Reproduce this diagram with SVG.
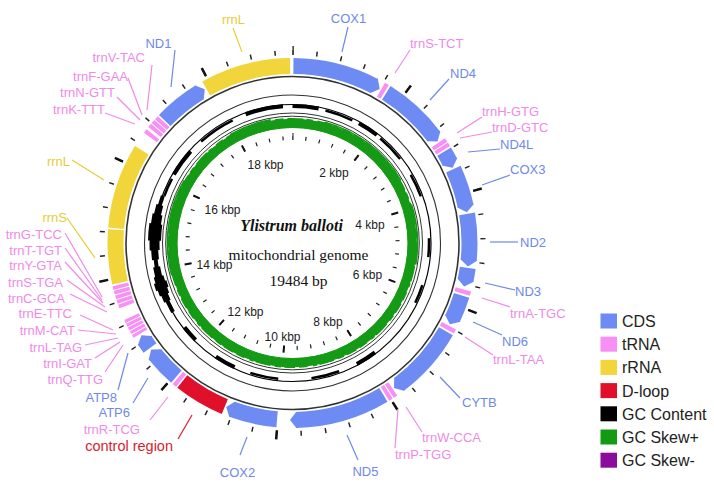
<svg xmlns="http://www.w3.org/2000/svg" width="714" height="486" viewBox="0 0 714 486">
<defs>
<polygon id="tipC" fill="#6d8bf3" points="-7.75,-184.84 -6.46,-184.89 0,-177 -5.9,-168.9 -7.08,-168.85"/>
</defs>
<style>
.g{fill:none;stroke-width:16}
.cds{stroke:#6d8bf3}.trna{stroke:#f78ff4}.rrna{stroke:#f2d43b}.dl{stroke:#e0102a}
.rg{fill:none;stroke:#333}
text{font-family:"Liberation Sans",Arial,sans-serif}
text.sf{font-family:"Liberation Serif","Times New Roman",serif;fill:#111;text-anchor:middle}
.lb{font-size:13px}
.kb{font-size:12px;fill:#222;text-anchor:middle}
.cb{fill:#6f88ea}.cp{fill:#f08ae8}.cy{fill:#e6cd38}.cr{fill:#d81c30}
.e{text-anchor:end}.m{text-anchor:middle}
#connectors line{stroke-width:1.2}
.sb{stroke:#6f88ea}.sp{stroke:#f08ae8}.sy{stroke:#e6cd38}.sr{stroke:#d81c30}
.lg{font-size:16px;fill:#222}
.gc{fill:none;stroke:#000}
.sk{fill:none;stroke:#159a15}
</style>
<rect width="714" height="486" fill="#fff"/>

<!-- inner tracks -->
<g id="tracks" transform="translate(292.5 243) rotate(-90)">
<circle class="rg" r="166.5" stroke="#111" stroke-width="1.6"/>
<circle class="rg" r="148" stroke-width="1.1"/>
<circle class="rg" r="130" stroke-width="1"/>
<circle class="rg" r="126.8" stroke-width="1"/>
<!-- GC content -->
<circle class="gc" r="138.5" stroke-width="1.2"/>
<circle class="gc" r="137" stroke-width="4" pathLength="360" stroke-dasharray="11 18 9 105 9 53 9 11 7 68 12 28 16 4"/>
<circle class="gc" r="136.5" stroke-width="2.5" pathLength="360" stroke-dasharray="0 14 12 14 12 8 10 18 8 12 8 44 12 14 12 92 8 20 16 26"/>
<circle class="gc" r="138" stroke-width="4" pathLength="360" stroke-dasharray="0 240 50 70"/>
<circle class="gc" r="138" stroke-width="7" pathLength="360" stroke-dasharray="0 245 15 3 23 74"/>
<circle class="gc" r="138" stroke-width="10" pathLength="360" stroke-dasharray="0 248 8 11 15 78"/>
<circle class="gc" r="138" stroke-width="13" pathLength="360" stroke-dasharray="0 250.5 3 17.5 7 82"/>
<!-- GC skew -->
<circle class="sk" r="119.8" stroke-width="9"/>
<circle class="sk" r="124.2" stroke-width="1.6" pathLength="360" stroke-dasharray="5 1.5 3 2 7 1 2 2.5 4 1.8"/>
<circle class="sk" r="125" stroke-width="1.8" pathLength="360" stroke-dasharray="0 15 45 12 28 155 45 30 20 10"/>
<circle class="sk" r="115.5" stroke="#1f7f1f" stroke-width="1"/>
<!-- rulers -->
<circle fill="none" stroke="#222" r="190.5" stroke-width="5" pathLength="19484" stroke-dasharray="24 376" stroke-dashoffset="12"/>
<circle fill="none" stroke="#111" r="192.5" stroke-width="9" pathLength="19484" stroke-dasharray="40 1960" stroke-dashoffset="20"/>
<circle fill="none" stroke="#222" r="105" stroke-width="4" pathLength="19484" stroke-dasharray="35 365" stroke-dashoffset="17.5"/>
<circle fill="none" stroke="#111" r="106.5" stroke-width="7" pathLength="19484" stroke-dasharray="58 1942" stroke-dashoffset="29"/>
</g>

<g id="ruler-labels">
<text class="kb" x="265.5" y="169">18 kbp</text>
<text class="kb" x="334" y="177">2 kbp</text>
<text class="kb" x="222.5" y="214">16 kbp</text>
<text class="kb" x="370" y="229">4 kbp</text>
<text class="kb" x="214.5" y="269">14 kbp</text>
<text class="kb" x="367.5" y="279">6 kbp</text>
<text class="kb" x="245.5" y="316">12 kbp</text>
<text class="kb" x="328" y="326">8 kbp</text>
<text class="kb" x="282.5" y="341">10 kbp</text>
</g>

<g id="title">
<text class="sf" x="291.5" y="231" font-weight="bold" font-style="italic" font-size="16">Ylistrum balloti</text>
<text class="sf" x="298.5" y="259.5" font-size="15.5">mitochondrial genome</text>
<text class="sf" x="298.5" y="286" font-size="15.5">19484 bp</text>
</g>

<!-- connectors -->
<g id="connectors">
<line class="sy" x1="233" y1="28" x2="242" y2="52"/>
<line class="sb" x1="348" y1="27" x2="342" y2="52"/>
<line class="sp" x1="410" y1="50" x2="395" y2="73"/>
<line class="sb" x1="449" y1="79" x2="430" y2="100"/>
<line class="sp" x1="482" y1="117" x2="457" y2="133"/>
<line class="sp" x1="492" y1="132" x2="460" y2="138"/>
<line class="sb" x1="500" y1="149" x2="468" y2="152"/>
<line class="sb" x1="510" y1="175" x2="482" y2="185"/>
<line class="sb" x1="518" y1="242" x2="490" y2="242"/>
<line class="sb" x1="515" y1="290" x2="485" y2="283"/>
<line class="sp" x1="510" y1="307" x2="482" y2="298"/>
<line class="sb" x1="502" y1="335" x2="473" y2="322"/>
<line class="sp" x1="493" y1="355" x2="465" y2="337"/>
<line class="sb" x1="460" y1="398" x2="440" y2="377"/>
<line class="sp" x1="422" y1="432" x2="406" y2="407"/>
<line class="sp" x1="395" y1="448" x2="398" y2="409"/>
<line class="sb" x1="358" y1="460" x2="347" y2="435"/>
<line class="sb" x1="240" y1="455" x2="247" y2="437"/>
<line class="sr" x1="178" y1="439" x2="192" y2="415"/>
<line class="sp" x1="150" y1="420" x2="168" y2="397"/>
<line class="sb" x1="133" y1="403" x2="148" y2="378"/>
<line class="sb" x1="118" y1="390" x2="128" y2="353"/>
<line class="sp" x1="105" y1="372" x2="123" y2="345"/>
<line class="sp" x1="95" y1="358" x2="120" y2="342"/>
<line class="sp" x1="85" y1="345" x2="118" y2="338"/>
<line class="sp" x1="78" y1="330" x2="116" y2="334"/>
<line class="sp" x1="80" y1="315" x2="113" y2="330"/>
<line class="sp" x1="70" y1="294" x2="107" y2="312"/>
<line class="sp" x1="67" y1="280" x2="105" y2="307"/>
<line class="sp" x1="65" y1="262" x2="103" y2="303"/>
<line class="sp" x1="65" y1="248" x2="102" y2="300"/>
<line class="sp" x1="65" y1="233" x2="102" y2="297"/>
<line class="sy" x1="67" y1="218" x2="95" y2="258"/>
<line class="sy" x1="72" y1="160" x2="104" y2="180"/>
<line class="sp" x1="105" y1="113" x2="135" y2="124"/>
<line class="sp" x1="117" y1="97" x2="140" y2="120"/>
<line class="sp" x1="128" y1="78" x2="142" y2="115"/>
<line class="sp" x1="152" y1="65" x2="147" y2="110"/>
<line class="sb" x1="175" y1="50" x2="171" y2="87"/>
</g>

<!-- features -->
<g id="COX1"><circle class="g cds" r="177" pathLength="360" stroke-dasharray="0 0.3 27.2 999" transform="translate(292.5 243) rotate(-90)"/><use href="#tipC" transform="translate(292.5 243) rotate(29.5)"/><text class="lb cb m" x="348.5" y="23">COX1</text></g>
<g id="trnS-TCT"><circle class="g trna" r="177" pathLength="360" stroke-dasharray="0 30 1.4 999" transform="translate(292.5 243) rotate(-90)"/><text class="lb cp" x="410" y="48">trnS-TCT</text></g>
<g id="ND4"><circle class="g cds" r="177" pathLength="360" stroke-dasharray="0 32 21 999" transform="translate(292.5 243) rotate(-90)"/><use href="#tipC" transform="translate(292.5 243) rotate(55)"/><text class="lb cb" x="450" y="78">ND4</text></g>
<g id="trnH-GTG"><circle class="g trna" r="177" pathLength="360" stroke-dasharray="0 55.5 1.3 999" transform="translate(292.5 243) rotate(-90)"/><text class="lb cp" x="482" y="116">trnH-GTG</text></g>
<g id="trnD-GTC"><circle class="g trna" r="177" pathLength="360" stroke-dasharray="0 57.1 1.3 999" transform="translate(292.5 243) rotate(-90)"/><text class="lb cp" x="492" y="132">trnD-GTC</text></g>
<g id="ND4L"><circle class="g cds" r="177" pathLength="360" stroke-dasharray="0 58.9 3.9 999" transform="translate(292.5 243) rotate(-90)"/><use href="#tipC" transform="translate(292.5 243) rotate(64.8)"/><text class="lb cb" x="500" y="149">ND4L</text></g>
<g id="COX3"><circle class="g cds" r="177" pathLength="360" stroke-dasharray="0 65.3 12.7 999" transform="translate(292.5 243) rotate(-90)"/><use href="#tipC" transform="translate(292.5 243) rotate(80)"/><text class="lb cb" x="510" y="174">COX3</text></g>
<g id="ND2"><circle class="g cds" r="177" pathLength="360" stroke-dasharray="0 80.5 15.1 999" transform="translate(292.5 243) rotate(-90)"/><use href="#tipC" transform="translate(292.5 243) rotate(97.6)"/><text class="lb cb" x="520" y="247">ND2</text></g>
<g id="ND3"><circle class="g cds" r="177" pathLength="360" stroke-dasharray="0 98.1 4.1 999" transform="translate(292.5 243) rotate(-90)"/><use href="#tipC" transform="translate(292.5 243) rotate(104.2)"/><text class="lb cb" x="515" y="296">ND3</text></g>
<g id="trnA-TGC"><circle class="g trna" r="177" pathLength="360" stroke-dasharray="0 105.2 1.4 999" transform="translate(292.5 243) rotate(-90)"/><text class="lb cp" x="510" y="318">trnA-TGC</text></g>
<g id="ND6"><circle class="g cds" r="177" pathLength="360" stroke-dasharray="0 107.2 8.1 999" transform="translate(292.5 243) rotate(-90)"/><use href="#tipC" transform="translate(292.5 243) rotate(117.3)"/><text class="lb cb" x="502" y="346">ND6</text></g>
<g id="trnL-TAA"><circle class="g trna" r="177" pathLength="360" stroke-dasharray="0 117.9 1.4 999" transform="translate(292.5 243) rotate(-90)"/><text class="lb cp" x="493" y="364">trnL-TAA</text></g>
<g id="CYTB"><circle class="g cds" r="177" pathLength="360" stroke-dasharray="0 119.9 23.1 999" transform="translate(292.5 243) rotate(-90)"/><use href="#tipC" transform="translate(292.5 243) rotate(145)"/><text class="lb cb" x="462" y="407">CYTB</text></g>
<g id="trnW-CCA"><circle class="g trna" r="177" pathLength="360" stroke-dasharray="0 145.5 1.3 999" transform="translate(292.5 243) rotate(-90)"/><text class="lb cp" x="422" y="442">trnW-CCA</text></g>
<g id="trnP-TGG"><circle class="g trna" r="177" pathLength="360" stroke-dasharray="0 147.2 1.3 999" transform="translate(292.5 243) rotate(-90)"/><text class="lb cp" x="395" y="459">trnP-TGG</text></g>
<g id="ND5"><circle class="g cds" r="177" pathLength="360" stroke-dasharray="0 149.1 29.7 999" transform="translate(292.5 243) rotate(-90)"/><use href="#tipC" transform="translate(292.5 243) rotate(180.8)"/><text class="lb cb m" x="365.5" y="476">ND5</text></g>
<g id="COX2"><circle class="g cds" r="177" pathLength="360" stroke-dasharray="0 185 15 999" transform="translate(292.5 243) rotate(-90)"/><use href="#tipC" transform="translate(292.5 243) rotate(202)"/><text class="lb cb m" x="237.5" y="477">COX2</text></g>
<g id="control-region"><circle class="g dl" r="177" pathLength="360" stroke-dasharray="0 202.5 16 999" transform="translate(292.5 243) rotate(-90)"/><text class="cr e" x="173" y="451" font-size="14.5">control region</text></g>
<g id="trnR-TCG"><circle class="g trna" r="177" pathLength="360" stroke-dasharray="0 219 1.4 999" transform="translate(292.5 243) rotate(-90)"/><text class="lb cp e" x="140" y="434">trnR-TCG</text></g>
<g id="ATP6"><circle class="g cds" r="177" pathLength="360" stroke-dasharray="0 221 10 999" transform="translate(292.5 243) rotate(-90)"/><use href="#tipC" transform="translate(292.5 243) rotate(233)"/><text class="lb cb e" x="130" y="417">ATP6</text></g>
<g id="ATP8"><circle class="g cds" r="177" pathLength="360" stroke-dasharray="0 233.6 3 999" transform="translate(292.5 243) rotate(-90)"/><use href="#tipC" transform="translate(292.5 243) rotate(238.6)"/><text class="lb cb e" x="117" y="402">ATP8</text></g>
<g id="trnQ-TTG"><circle class="g trna" r="177" pathLength="360" stroke-dasharray="0 239.2 1 999" transform="translate(292.5 243) rotate(-90)"/><text class="lb cp e" x="103" y="384">trnQ-TTG</text></g>
<g id="trnI-GAT"><circle class="g trna" r="177" pathLength="360" stroke-dasharray="0 240.5 1 999" transform="translate(292.5 243) rotate(-90)"/><text class="lb cp e" x="92" y="368">trnI-GAT</text></g>
<g id="trnL-TAG"><circle class="g trna" r="177" pathLength="360" stroke-dasharray="0 241.8 1 999" transform="translate(292.5 243) rotate(-90)"/><text class="lb cp e" x="82" y="352">trnL-TAG</text></g>
<g id="trnM-CAT"><circle class="g trna" r="177" pathLength="360" stroke-dasharray="0 243.1 1 999" transform="translate(292.5 243) rotate(-90)"/><text class="lb cp e" x="75" y="335">trnM-CAT</text></g>
<g id="trnE-TTC"><circle class="g trna" r="177" pathLength="360" stroke-dasharray="0 244.4 1 999" transform="translate(292.5 243) rotate(-90)"/><text class="lb cp e" x="72" y="318">trnE-TTC</text></g>
<g id="trnC-GCA"><circle class="g trna" r="177" pathLength="360" stroke-dasharray="0 249.3 1.2 999" transform="translate(292.5 243) rotate(-90)"/><text class="lb cp e" x="65" y="303">trnC-GCA</text></g>
<g id="trnS-TGA"><circle class="g trna" r="177" pathLength="360" stroke-dasharray="0 250.8 1.2 999" transform="translate(292.5 243) rotate(-90)"/><text class="lb cp e" x="63" y="287">trnS-TGA</text></g>
<g id="trnY-GTA"><circle class="g trna" r="177" pathLength="360" stroke-dasharray="0 252.3 1.2 999" transform="translate(292.5 243) rotate(-90)"/><text class="lb cp e" x="62" y="270">trnY-GTA</text></g>
<g id="trnT-TGT"><circle class="g trna" r="177" pathLength="360" stroke-dasharray="0 253.8 1.2 999" transform="translate(292.5 243) rotate(-90)"/><text class="lb cp e" x="62" y="255">trnT-TGT</text></g>
<g id="trnG-TCC"><circle class="g trna" r="177" pathLength="360" stroke-dasharray="0 255.3 1.2 999" transform="translate(292.5 243) rotate(-90)"/><text class="lb cp e" x="62" y="239">trnG-TCC</text></g>
<g id="rrnS"><circle class="g rrna" r="177" pathLength="360" stroke-dasharray="0 257 17.3 999" transform="translate(292.5 243) rotate(-90)"/><text class="lb cy e" x="67" y="222">rrnS</text></g>
<g id="rrnL-1"><circle class="g rrna" r="177" pathLength="360" stroke-dasharray="0 274.8 26.8 999" transform="translate(292.5 243) rotate(-90)"/><text class="lb cy e" x="70" y="166">rrnL</text></g>
<g id="trnK-TTT"><circle class="g trna" r="177" pathLength="360" stroke-dasharray="0 306.6 1.3 999" transform="translate(292.5 243) rotate(-90)"/><text class="lb cp e" x="105" y="114">trnK-TTT</text></g>
<g id="trnN-GTT"><circle class="g trna" r="177" pathLength="360" stroke-dasharray="0 308.8 1.3 999" transform="translate(292.5 243) rotate(-90)"/><text class="lb cp e" x="115" y="97">trnN-GTT</text></g>
<g id="trnF-GAA"><circle class="g trna" r="177" pathLength="360" stroke-dasharray="0 310.4 1.3 999" transform="translate(292.5 243) rotate(-90)"/><text class="lb cp e" x="128" y="81">trnF-GAA</text></g>
<g id="trnV-TAC"><circle class="g trna" r="177" pathLength="360" stroke-dasharray="0 312 1.3 999" transform="translate(292.5 243) rotate(-90)"/><text class="lb cp e" x="145" y="62">trnV-TAC</text></g>
<g id="ND1"><circle class="g cds" r="177" pathLength="360" stroke-dasharray="0 313.8 14.5 999" transform="translate(292.5 243) rotate(-90)"/><use href="#tipC" transform="translate(292.5 243) rotate(330.3)"/><text class="lb cb m" x="158.5" y="48">ND1</text></g>
<g id="rrnL-2"><circle class="g rrna" r="177" pathLength="360" stroke-dasharray="0 330.8 28.4 999" transform="translate(292.5 243) rotate(-90)"/><text class="lb cy m" x="233.5" y="24">rrnL</text></g>

<!-- legend -->
<g id="legend">
<rect x="600.5" y="313.5" width="16.5" height="15" fill="#6d8bf3"/><text class="lg" x="622" y="327">CDS</text>
<rect x="600.5" y="336.7" width="16.5" height="15" fill="#f78ff4"/><text class="lg" x="622" y="350.2">tRNA</text>
<rect x="600.5" y="359.9" width="16.5" height="15" fill="#f2d43b"/><text class="lg" x="622" y="373.4">rRNA</text>
<rect x="600.5" y="383.1" width="16.5" height="15" fill="#e0102a"/><text class="lg" x="622" y="396.6">D-loop</text>
<rect x="600.5" y="406.3" width="16.5" height="15" fill="#000"/><text class="lg" x="622" y="419.8">GC Content</text>
<rect x="600.5" y="429.5" width="16.5" height="15" fill="#129a12"/><text class="lg" x="622" y="443">GC Skew+</text>
<rect x="600.5" y="452.7" width="16.5" height="15" fill="#8b0b9c"/><text class="lg" x="622" y="466.2">GC Skew-</text>
</g>
</svg>
